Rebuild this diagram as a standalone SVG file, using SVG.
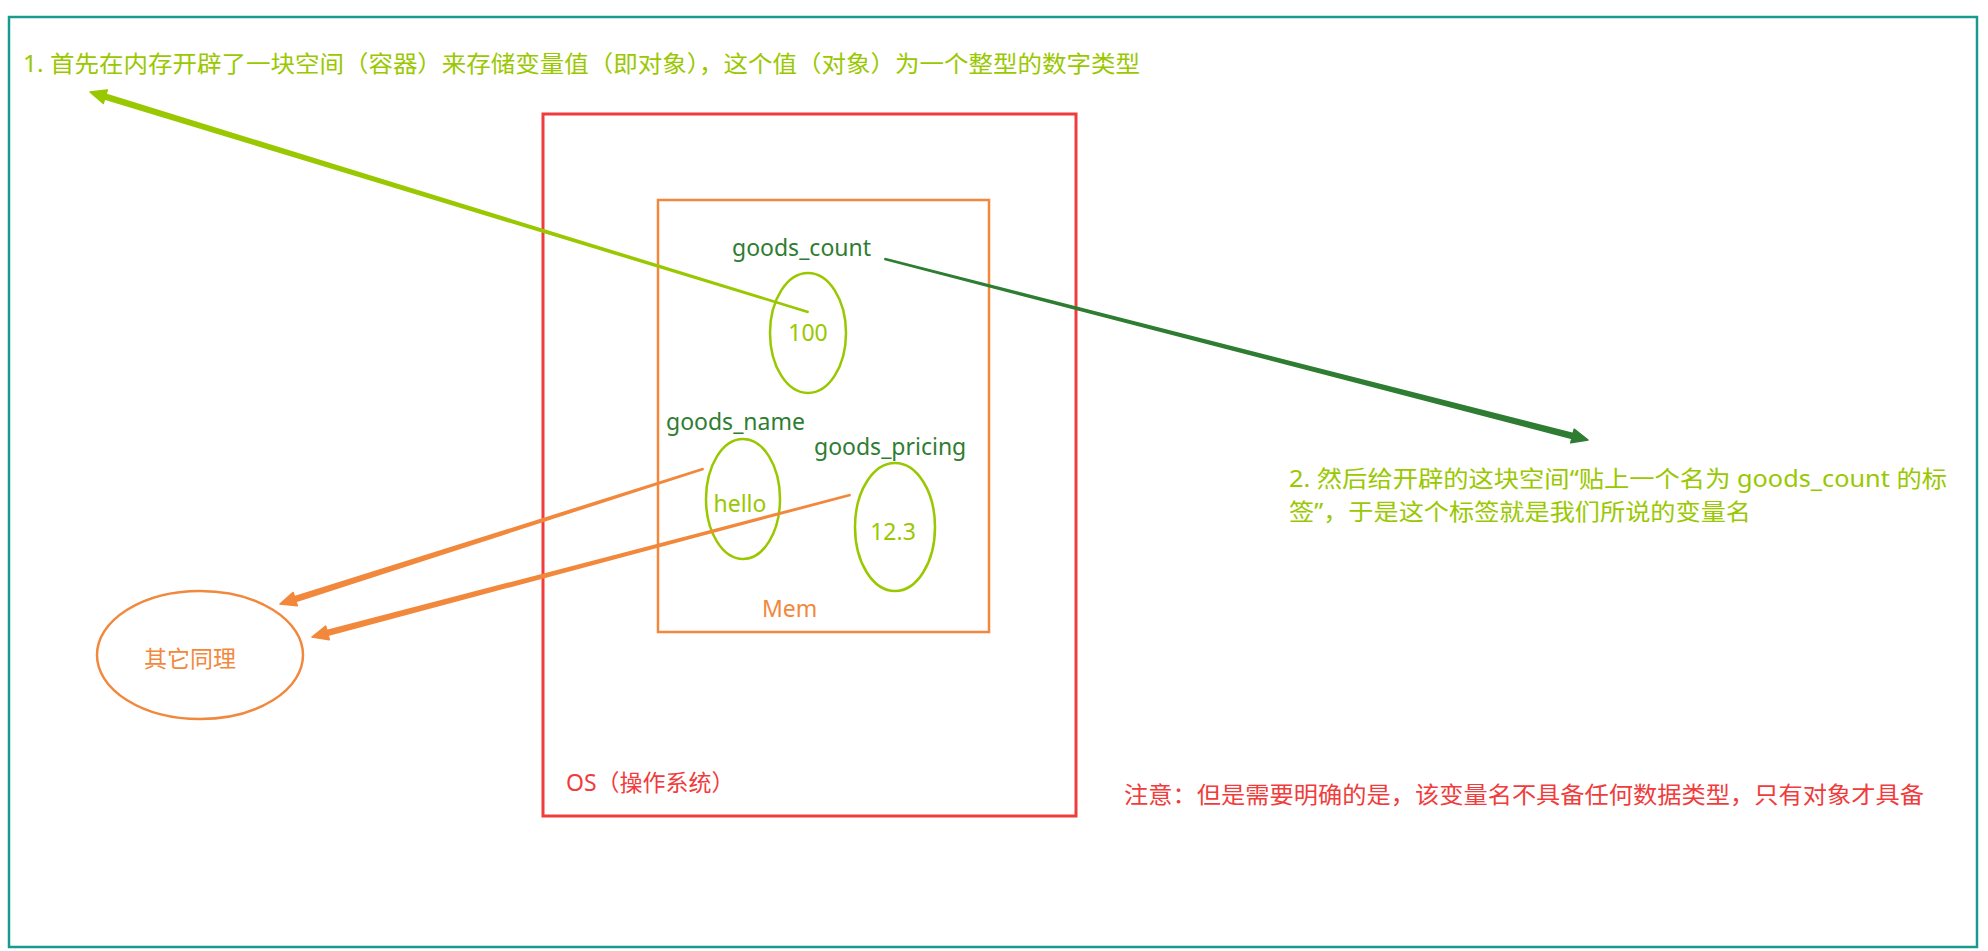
<svg xmlns="http://www.w3.org/2000/svg" width="1988" height="951" viewBox="0 0 1988 951">
<style>
text{font-family:"Noto Sans","Noto Sans CJK SC",sans-serif;font-size:23px}
.lg{fill:#99c800}.dg{fill:#2e7d32}.or{fill:#f2883c}.rd{fill:#f03c3c}
.e{fill:none;stroke-width:2.5}
.w{stroke-linejoin:round;stroke-width:1.5}
</style>
<rect width="1988" height="951" fill="#fff"/>
<rect x="9" y="17" width="1968" height="930" fill="none" stroke="#1a9a8e" stroke-width="2.5"/>
<g id="os"><rect x="543" y="114" width="533" height="702" fill="none" stroke="#f03c3c" stroke-width="3"/>
<text x="566" y="791" class="rd">OS（操作系统）</text></g>
<g id="mem"><rect x="658" y="200" width="331" height="432" fill="none" stroke="#f2883c" stroke-width="2.5"/>
<text x="762" y="617" class="or">Mem</text></g>
<g id="n100"><ellipse cx="808" cy="333" rx="38" ry="60" class="e" stroke="#99c800"/>
<text x="808" y="341" class="lg" text-anchor="middle">100</text>
<text x="732" y="256" class="dg">goods_count</text></g>
<g id="nhello"><ellipse cx="743" cy="499" rx="37" ry="60" class="e" stroke="#99c800"/>
<text x="740" y="512" class="lg" text-anchor="middle">hello</text>
<text x="666" y="430" class="dg">goods_name</text></g>
<g id="n123"><ellipse cx="895" cy="527" rx="40" ry="64" class="e" stroke="#99c800"/>
<text x="893" y="540" class="lg" text-anchor="middle">12.3</text>
<text x="814" y="455" class="dg">goods_pricing</text></g>
<g id="other"><ellipse cx="200" cy="655" rx="103" ry="64" class="e" stroke="#f2883c"/>
<text x="190" y="667" class="or" text-anchor="middle">其它同理</text></g>
<g id="t1"><text x="23" y="72" class="lg" textLength="1117" lengthAdjust="spacingAndGlyphs">1. 首先在内存开辟了一块空间（容器）来存储变量值（即对象），这个值（对象）为一个整型的数字类型</text></g>
<g id="t2"><text x="1289" y="487" class="lg" textLength="658" lengthAdjust="spacingAndGlyphs">2. 然后给开辟的这块空间“贴上一个名为 goods_count 的标</text>
<text x="1289" y="520" class="lg" textLength="462" lengthAdjust="spacingAndGlyphs">签”，于是这个标签就是我们所说的变量名</text></g>
<g id="note"><text x="1124" y="803" class="rd" textLength="800" lengthAdjust="spacingAndGlyphs">注意：但是需要明确的是，该变量名不具备任何数据类型，只有对象才具备</text></g>
<g id="connectors">
<polygon class="w" fill="#99c800" stroke="#99c800" points="808.15,311.52 106.0,94.3 107.4,90.0 90,92 103.3,103.4 104.6,99.1 807.85,312.48"/>
<polygon class="w" fill="#2e7d32" stroke="#2e7d32" points="884.88,259.48 1571.9,438.4 1570.8,442.8 1588,440 1574.2,429.2 1573.1,433.6 885.12,258.52"/>
<polygon class="w" fill="#f2883c" stroke="#f2883c" points="702.85,468.52 294.4,596.7 293.1,592.4 280,604 297.3,605.8 296.0,601.5 703.15,469.48"/>
<polygon class="w" fill="#f2883c" stroke="#f2883c" points="849.87,494.52 326.9,630.5 325.7,626.1 312,637 329.3,639.7 328.1,635.3 850.13,495.48"/>
</g>
</svg>
